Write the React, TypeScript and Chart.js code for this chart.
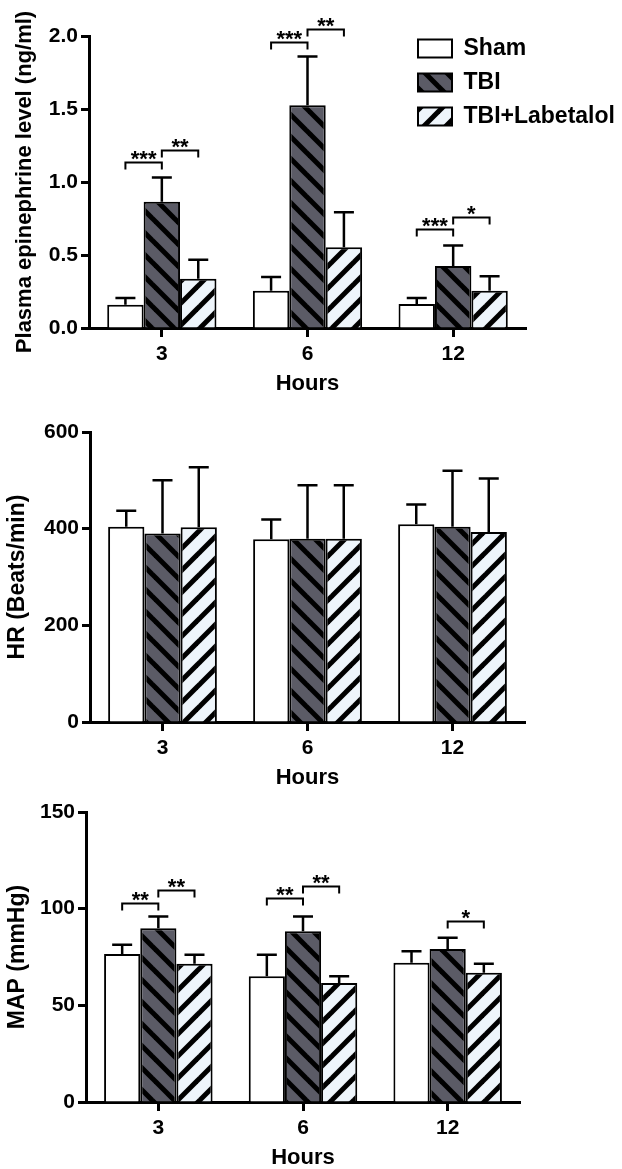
import React, { useEffect, useRef } from 'react';
import { Chart, registerables } from 'chart.js';

Chart.register(...registerables);

// ---------- data ----------
const hours = ['3', '6', '12'];
const groupNames = ['Sham', 'TBI', 'TBI+Labetalol'];

// Plasma epinephrine level (ng/ml): means and upward error (SD)
const epiSham = [0.16, 0.255, 0.165];
const epiTbi = [0.865, 1.525, 0.425];
const epiLab = [0.338, 0.553, 0.255];
const epiShamErr = [0.045, 0.095, 0.04];
const epiTbiErr = [0.165, 0.335, 0.14];
const epiLabErr = [0.13, 0.24, 0.1];
const epiRange = [0, 2, 0.5]; // min, max, step

// HR (Beats/min)
const hrSham = [404, 378, 409];
const hrTbi = [390, 379, 404];
const hrLab = [403, 379, 393];
const hrShamErr = [33, 41, 41];
const hrTbiErr = [110, 111, 116];
const hrLabErr = [124, 111, 111];
const hrRange = [0, 600, 200];

// MAP (mmHg)
const mapSham = [76.6, 65.1, 72];
const mapTbi = [89.9, 88.3, 79.2];
const mapLab = [71.5, 61.5, 66.9];
const mapShamErr = [4.7, 11, 6];
const mapTbiErr = [6, 7.7, 5.7];
const mapLabErr = [4.6, 3.6, 4.6];
const mapRange = [0, 150, 50];

// significance brackets: [hour index, from group, to group, bracket level, label]
type SigRow = [number, number, number, number, string];
const epiSig: SigRow[] = [
  [0, 0, 1, 1.14, '***'],
  [0, 1, 2, 1.22, '**'],
  [1, 0, 1, 1.96, '***'],
  [1, 1, 2, 2.05, '**'],
  [2, 0, 1, 0.68, '***'],
  [2, 1, 2, 0.76, '*'],
];
const hrSig: SigRow[] = [];
const mapSig: SigRow[] = [
  [0, 0, 1, 102.9, '**'],
  [0, 1, 2, 109.8, '**'],
  [1, 0, 1, 105.3, '**'],
  [1, 1, 2, 111.5, '**'],
  [2, 1, 2, 93.5, '*'],
];

// ---------- styling ----------
const FONT = '"Liberation Sans", Arial, Helvetica, sans-serif';
Chart.defaults.font.family = FONT;
Chart.defaults.color = '#000';

function makePattern(bg: string, dir: number) {
  const P = 22;
  const c = document.createElement('canvas');
  c.width = P;
  c.height = P;
  const g = c.getContext('2d')!;
  g.fillStyle = bg;
  g.fillRect(0, 0, P, P);
  g.strokeStyle = '#000';
  g.lineWidth = 5;
  for (let k = -1; k <= 1; k++) {
    g.beginPath();
    if (dir > 0) {
      g.moveTo(k * P - 3, -3);
      g.lineTo(k * P + P + 3, P + 3);
    } else {
      g.moveTo(k * P - 3, P + 3);
      g.lineTo(k * P + P + 3, -3);
    }
    g.stroke();
  }
  return g.createPattern(c, 'repeat')!;
}

function makeErrorBars(errors: number[][]) {
  return {
    id: 'errorBars',
    afterDatasetsDraw(chart: any) {
      const ctx = chart.ctx;
      const ys = chart.scales.y;
      ctx.save();
      ctx.strokeStyle = '#000';
      ctx.lineWidth = 2.5;
      chart.data.datasets.forEach((ds: any, d: number) => {
        const meta = chart.getDatasetMeta(d);
        meta.data.forEach((bar: any, i: number) => {
          const v = ds.data[i];
          const e = errors[d][i];
          const x = bar.x;
          const y0 = ys.getPixelForValue(v);
          const y1 = ys.getPixelForValue(v + e);
          ctx.beginPath();
          ctx.moveTo(x, y0);
          ctx.lineTo(x, y1);
          ctx.moveTo(x - 10, y1);
          ctx.lineTo(x + 10, y1);
          ctx.stroke();
        });
      });
      ctx.restore();
    },
  };
}

function makeBrackets(sig: SigRow[]) {
  return {
    id: 'sigBrackets',
    afterDatasetsDraw(chart: any) {
      const ctx = chart.ctx;
      const ys = chart.scales.y;
      ctx.save();
      ctx.strokeStyle = '#000';
      ctx.fillStyle = '#000';
      ctx.lineWidth = 2;
      ctx.font = 'bold 22px ' + FONT;
      ctx.textAlign = 'center';
      ctx.textBaseline = 'alphabetic';
      sig.forEach(([h, a, b, v, label]) => {
        const xa = chart.getDatasetMeta(a).data[h].x;
        const xb = chart.getDatasetMeta(b).data[h].x;
        const py = Math.round(ys.getPixelForValue(v)) + 0.5;
        ctx.beginPath();
        ctx.moveTo(xa, py + 7);
        ctx.lineTo(xa, py);
        ctx.lineTo(xb, py);
        ctx.lineTo(xb, py + 7);
        ctx.stroke();
        ctx.fillText(label, (xa + xb) / 2, py + 3);
      });
      ctx.restore();
    },
  };
}

const legendMover = {
  id: 'legendMover',
  afterLayout(chart: any) {
    const l = chart.legend;
    if (!l) return;
    l.left = 407;
    l.top = 26;
    l.right = 622;
    l.bottom = 240;
    l.width = 215;
    l.height = 214;
  },
};

type PanelDef = {
  key: string;
  top: number;
  height: number;
  plotTop: number;
  axisLeft: number;
  plotRight: number;
  yTitle: string;
  yTitleSize: number;
  yTitleX: number;
  range: number[];
  decimals: number;
  series: number[][];
  errors: number[][];
  sig: SigRow[];
  legend: boolean;
};

const panels: PanelDef[] = [
  {
    key: 'epi', top: 0, height: 400, plotTop: 36, axisLeft: 89, plotRight: 526,
    yTitle: 'Plasma epinephrine level (ng/ml)', yTitleSize: 22, yTitleX: 25,
    range: epiRange, decimals: 1,
    series: [epiSham, epiTbi, epiLab], errors: [epiShamErr, epiTbiErr, epiLabErr],
    sig: epiSig, legend: true,
  },
  {
    key: 'hr', top: 400, height: 394, plotTop: 32, axisLeft: 90, plotRight: 525,
    yTitle: 'HR (Beats/min)', yTitleSize: 23, yTitleX: 18,
    range: hrRange, decimals: 0,
    series: [hrSham, hrTbi, hrLab], errors: [hrShamErr, hrTbiErr, hrLabErr],
    sig: hrSig, legend: false,
  },
  {
    key: 'map', top: 794, height: 380, plotTop: 18, axisLeft: 86, plotRight: 520,
    yTitle: 'MAP (mmHg)', yTitleSize: 23, yTitleX: 18,
    range: mapRange, decimals: 0,
    series: [mapSham, mapTbi, mapLab], errors: [mapShamErr, mapTbiErr, mapLabErr],
    sig: mapSig, legend: false,
  },
];

function Panel({ p }: { p: PanelDef }) {
  const ref = useRef<HTMLCanvasElement | null>(null);
  useEffect(() => {
    const canvas = ref.current;
    if (!canvas) return;
    const fills: any[] = ['#ffffff', makePattern('#5b5b66', 1), makePattern('#eef5fb', -1)];
    const plugins: any[] = [makeErrorBars(p.errors), makeBrackets(p.sig)];
    if (p.legend) plugins.push(legendMover);
    const chart = new Chart(canvas, {
      type: 'bar',
      data: {
        labels: hours,
        datasets: p.series.map((vals, k) => ({
          label: groupNames[k],
          data: vals,
          backgroundColor: fills[k],
          borderColor: '#000',
          borderWidth: 2,
          barPercentage: 1,
          categoryPercentage: 0.75,
        })),
      },
      options: {
        responsive: false,
        animation: false,
        layout: { padding: { top: p.plotTop, right: 622 - p.plotRight, left: 0, bottom: 0 } },
        plugins: {
          legend: p.legend
            ? {
                display: true,
                position: 'chartArea',
                align: 'start',
                labels: {
                  boxWidth: 34,
                  boxHeight: 18,
                  padding: 11,
                  color: '#000',
                  font: { size: 23, weight: 'bold' },
                },
              }
            : { display: false },
          tooltip: { enabled: false },
        },
        scales: {
          x: {
            offset: true,
            grid: {
              display: true,
              drawOnChartArea: false,
              offset: false,
              tickLength: 9,
              tickWidth: 3,
              tickColor: '#000',
              color: '#000',
            },
            border: { display: true, color: '#000', width: 3 },
            ticks: { color: '#000', font: { size: 21, weight: 'bold' }, padding: 5, maxRotation: 0 },
            title: {
              display: true,
              text: 'Hours',
              color: '#000',
              font: { size: 22, weight: 'bold' },
              padding: { top: 0, bottom: 3 },
            },
            afterFit: (s: any) => {
              s.height = 72;
            },
          },
          y: {
            min: p.range[0],
            max: p.range[1],
            ticks: {
              stepSize: p.range[2],
              color: '#000',
              font: { size: 21, weight: 'bold' },
              padding: 3,
              callback: (v: any) => Number(v).toFixed(p.decimals),
            },
            grid: {
              display: true,
              drawOnChartArea: false,
              tickLength: 8,
              tickWidth: 3,
              tickColor: '#000',
              color: '#000',
            },
            border: { display: true, color: '#000', width: 3 },
            title: {
              display: true,
              text: p.yTitle,
              color: '#000',
              font: { size: p.yTitleSize, weight: 'bold' },
              padding: { top: p.yTitleX - (p.yTitleSize * 1.2) / 2, bottom: 0 },
            },
            afterFit: (s: any) => {
              s.width = p.axisLeft;
            },
          },
        },
      } as any,
      plugins,
    });
    return () => chart.destroy();
  }, [p]);
  return (
    <canvas
      ref={ref}
      width={622}
      height={p.height}
      style={{ position: 'absolute', left: 0, top: p.top, width: 622, height: p.height }}
    />
  );
}

export default function App() {
  return (
    <div
      style={{
        position: 'absolute',
        left: 0,
        top: 0,
        width: 622,
        height: 1169,
        overflow: 'hidden',
        background: '#fff',
      }}
    >
      {panels.map((p) => (
        <Panel key={p.key} p={p} />
      ))}
    </div>
  );
}
